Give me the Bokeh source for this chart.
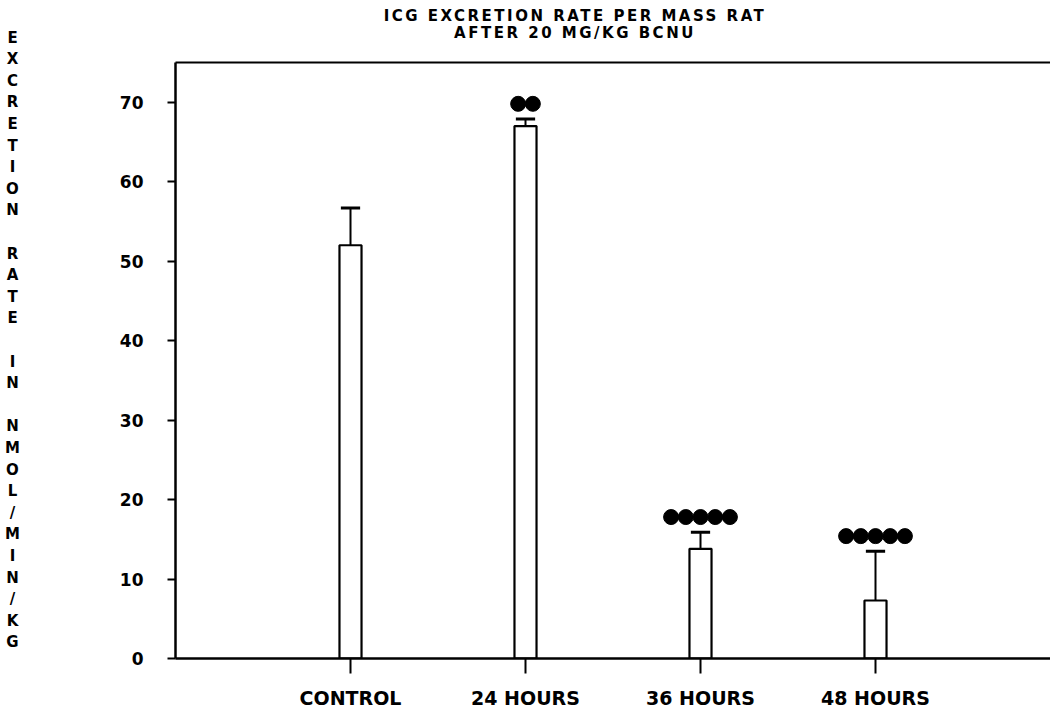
import numpy as np
from bokeh.plotting import figure
from bokeh.models import Range1d, FixedTicker, LinearAxis, Div
from bokeh.core.properties import value
from bokeh.layouts import column, row
from bokeh.embed import file_html
from bokeh.resources import INLINE

categories = ["CONTROL", "24 HOURS", "36 HOURS", "48 HOURS"]
means = [52.0, 67.0, 13.8, 7.3]
errors = [4.7, 0.9, 2.1, 6.2]
n_marks = [0, 2, 5, 5]
y_ticks = [0, 10, 20, 30, 40, 50, 60, 70]
title_lines = ["ICG EXCRETION RATE PER MASS RAT", "AFTER 20 MG/KG BCNU"]
y_label = "EXCRETION RATE IN NMOL/MIN/KG"

FONT = "DejaVu Sans"
xs = np.arange(1, len(categories) + 1)
tops = [m + e for m, e in zip(means, errors)]

W, H = 1050, 711
LEFT_W = 24
TOP_H = 60


def blank(fig):
    fig.outline_line_color = None
    fig.xgrid.visible = False
    fig.ygrid.visible = False
    fig.background_fill_color = "white"
    fig.border_fill_color = "white"
    return fig


# stacked y label (pixel-space helper figure)
ylab = blank(figure(width=LEFT_W, height=H, output_backend="svg", toolbar_location=None,
                    x_range=Range1d(0, LEFT_W), y_range=Range1d(H, 0),
                    x_axis_type=None, y_axis_type=None, min_border=0))
letters = [c for c in y_label]
lx = [LEFT_W / 2] * len(letters)
ly = [37 + 21.6 * i for i in range(len(letters))]
keep = [i for i, c in enumerate(letters) if c != " "]
ylab.text(x=[lx[i] for i in keep], y=[ly[i] for i in keep], text=[letters[i] for i in keep],
          text_align="center", text_baseline="middle", text_font=value(FONT),
          text_font_style="bold", text_font_size="15px", text_color="black")

# title block
title_html = (
    '<div style="width:800px;margin-left:%dpx;padding-top:8px;text-align:center;'
    'font-family:\'DejaVu Sans\';font-weight:bold;font-size:15px;line-height:17px;'
    'letter-spacing:2.5px;color:black;">' % (175 - LEFT_W)
    + "<br>".join(title_lines) + "</div>"
)
title_div = Div(text=title_html, width=W - LEFT_W, height=TOP_H, margin=0)

# main chart
p = blank(figure(width=W - LEFT_W, height=H - TOP_H, output_backend="svg", toolbar_location=None,
                 title=None, x_range=Range1d(0, 5), y_range=Range1d(0, 75),
                 min_border_left=175 - LEFT_W, min_border_right=0, min_border_top=2,
                 min_border_bottom=51))

xa = p.below[0]
ya = p.left[0]

top_axis = LinearAxis(ticker=FixedTicker(ticks=[]), major_tick_line_color=None,
                      minor_tick_line_color=None, major_tick_out=0, major_tick_in=0,
                      major_label_standoff=0, axis_line_width=2)
p.add_layout(top_axis, "above")

xa.ticker = FixedTicker(ticks=list(xs))
xa.major_label_overrides = {int(x): c for x, c in zip(xs, categories)}
xa.major_tick_out = 15
xa.major_tick_in = 0
xa.minor_tick_line_color = None
xa.axis_line_width = 2.5
xa.major_tick_line_width = 2
xa.major_label_standoff = 13
xa.major_label_text_font = FONT
xa.major_label_text_font_style = "bold"
xa.major_label_text_font_size = "19px"
xa.major_label_text_color = "black"

ya.ticker = FixedTicker(ticks=y_ticks)
ya.major_tick_out = 8
ya.major_tick_in = 0
ya.minor_tick_line_color = None
ya.axis_line_width = 2.5
ya.major_tick_line_width = 2
ya.major_label_standoff = 24
ya.major_label_text_font = FONT
ya.major_label_text_font_style = "bold"
ya.major_label_text_font_size = "17px"
ya.major_label_text_color = "black"
ya.major_label_text_baseline = "bottom"

# bars
p.vbar(x=xs, top=means, width=0.126, bottom=0, fill_color="white",
       line_color="black", line_width=2.2)

# error bars
p.segment(x0=xs, y0=means, x1=xs, y1=tops, line_color="black", line_width=2)
p.segment(x0=xs - 0.055, y0=tops, x1=xs + 0.055, y1=tops, line_color="black", line_width=3)

# significance markers
mx, my = [], []
for x, t, n in zip(xs, tops, n_marks):
    for k in range(n):
        mx.append(x + (k - (n - 1) / 2) * 0.084)
        my.append(t + 1.9)
p.scatter(x=mx, y=my, size=15, marker="circle", fill_color="black", line_color="black")

layout = row(ylab, column(title_div, p, spacing=0), spacing=0)
open("out.html", "w").write(file_html(layout, INLINE))
